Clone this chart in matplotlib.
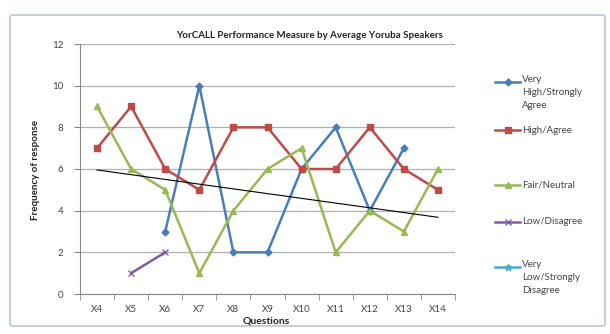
import numpy as np
import matplotlib
matplotlib.use("Agg")
import matplotlib.pyplot as plt
from matplotlib.lines import Line2D
from matplotlib.patches import FancyBboxPatch

categories = ["X4", "X5", "X6", "X7", "X8", "X9", "X10", "X11", "X12", "X13", "X14"]
very_high = [np.nan, np.nan, 3, 10, 2, 2, 6, 8, 4, 7, np.nan]
high = [7, 9, 6, 5, 8, 8, 6, 6, 8, 6, 5]
fair = [9, 6, 5, 1, 4, 6, 7, 2, 4, 3, 6]
low = [np.nan, 1, 2, np.nan, np.nan, np.nan, np.nan, np.nan, np.nan, np.nan, np.nan]
very_low = [np.nan] * 11
series_names = ["Very\nHigh/Strongly\nAgree", "High/Agree", "Fair/Neutral", "Low/Disagree",
                "Very\nLow/Strongly\nDisagree"]

plt.rcParams['font.family'] = ['Lato', 'DejaVu Sans']
fig = plt.figure(figsize=(6.10, 3.34), dpi=100)
fig.patch.set_facecolor("white")

# outer chart border
border = FancyBboxPatch((10/610, 1-326/334), 595/610, 311/334, boxstyle="round,pad=0,rounding_size=0.005",
                        transform=fig.transFigure, fill=False, edgecolor="#b8c8d8", lw=1.2)
fig.patches.append(border)

ax = fig.add_axes([80/610, 1-294/334, 375/610, 250/334])
x = np.arange(len(categories))
styles = [
    (very_high, "#4A7EBB", "D", 3.5),
    (high, "#BE4B48", "s", 5),
    (fair, "#98B954", "^", 5),
    (low, "#7D60A0", "x", 4),
    (very_low, "#46AACC", "*", 5),
]
for (vals, col, mk, ms), name in zip(styles, series_names):
    ax.plot(x, vals, color=col, marker=mk, markersize=ms, lw=1.8, label=name)

# linear trendline of Fair/Neutral
coef = np.polyfit(x, fair, 1)
ax.plot(x, np.polyval(coef, x), color="black", lw=0.8)

ax.set_xlim(-0.5, len(categories) - 0.5)
ax.set_ylim(0, 12)
ax.set_yticks(np.arange(0, 13, 2))
ax.set_xticks(x)
ax.set_xticklabels(categories, fontsize=7, color="#444444")
ax.set_xticks(np.arange(-0.5, len(categories), 1), minor=True)
ax.tick_params(axis="x", which="major", length=0, pad=8)
ax.tick_params(axis="x", which="minor", length=4, color="#888888", direction="out")
ax.tick_params(axis="y", labelsize=7, length=4, color="#888888", labelcolor="#444444", pad=8)
ax.grid(axis="y", color="#b0b0b0", lw=0.9)
ax.set_axisbelow(True)
for s in ["top", "right"]:
    ax.spines[s].set_visible(False)
ax.spines["left"].set_color("#888888")
ax.spines["bottom"].set_color("#888888")

fig.text(310/610, 1-36/334, "YorCALL Performance Measure by Average Yoruba Speakers",
         ha="center", va="center", fontsize=7, fontweight="bold", color="#222222")
fig.text(36/610, 1-170/334, "Frequency of response", rotation=90, ha="center", va="center",
         fontsize=7, fontweight="bold", color="#222222")
fig.text(266/610, 1-321/334, "Questions", ha="center", va="center", fontsize=7.5,
         fontweight="bold", color="#222222")

# manual legend
leg_y = [82, 130, 185, 222, 267]
for (vals, col, mk, ms), name, yy in zip(styles, series_names, leg_y):
    yf = 1 - yy/334
    fig.add_artist(Line2D([495/610, 520/610], [yf, yf], transform=fig.transFigure,
                          color=col, lw=1.8))
    fig.add_artist(Line2D([507.5/610], [yf], transform=fig.transFigure, color=col,
                          marker=mk, markersize=ms, lw=0))
    if "\n" in name:
        fig.text(522/610, yf + 7/334, name, ha="left", va="top", fontsize=7,
                 color="#444444", linespacing=1.6)
    else:
        fig.text(522/610, yf, name, ha="left", va="center", fontsize=7, color="#444444")

fig.savefig("out.png", dpi=100)
